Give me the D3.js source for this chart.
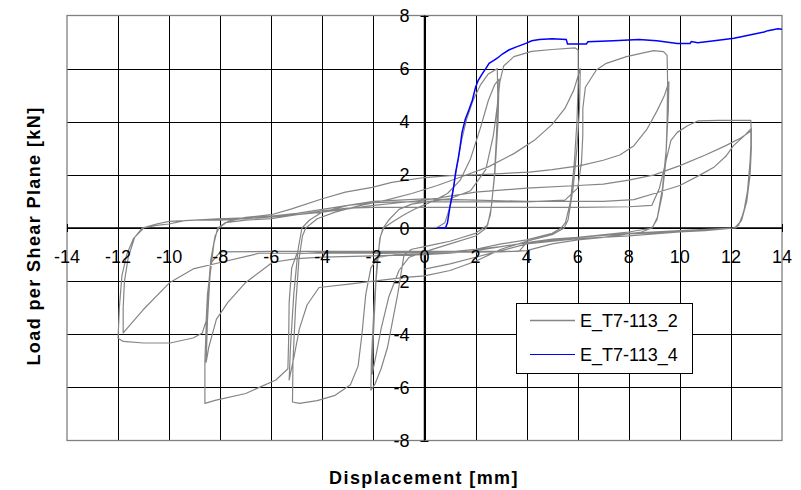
<!DOCTYPE html>
<html>
<head>
<meta charset="utf-8">
<script src="https://cdn.jsdelivr.net/npm/d3@7"></script>
<style>
  body { margin: 0; background: #fff; }
  text { font-family: "Liberation Sans", Arial, sans-serif; }
</style>
</head>
<body>
<div id="chart"></div>
<script>
const xTicks = [-14, -12, -10, -8, -6, -4, -2, 0, 2, 4, 6, 8, 10, 12, 14];
const yTicks = [-8, -6, -4, -2, 0, 2, 4, 6, 8];
const seriesNames = ["E_T7-113_2", "E_T7-113_4"];

// E_T7-113_2, cyclic test, one array per cycle
const cycle1 = [[0,0],[0.5,0.02],[0.8,0.2],[1.0,0.8],[1.15,1.6],[1.3,2.5],[1.45,3.3],[1.65,4.1],[1.9,4.8],[2.2,5.4],[2.5,5.8],[2.85,6.0],
  [2.87,5.0],[2.82,3.5],[2.74,2.0],[2.62,0.8],[2.47,0.1],[2.3,0],
  [2.0,-0.2],[1.5,-0.35],[1.0,-0.5],[0.5,-0.6],[0,-0.7],[-0.5,-0.8],[-0.8,-1.0],
  [-0.9,-1.6],[-1.05,-2.5],[-1.25,-3.5],[-1.45,-4.5],[-1.7,-5.3],[-1.95,-5.9],[-2.1,-6.1],
  [-2.08,-5.0],[-1.98,-3.0],[-1.85,-1.2],[-1.72,-0.3],[-1.6,0]];
const cycle2 = [[-1.6,0],[-1.3,0.2],[-0.8,0.5],[-0.3,0.75],[0.3,1.0],[0.9,1.3],[1.4,1.8],[1.8,2.6],[2.2,3.8],[2.5,4.8],[2.75,5.4],[2.92,5.6],
  [2.88,4.0],[2.75,2.0],[2.58,0.5],[2.42,0],
  [2.0,-0.3],[1.0,-0.6],[0,-0.9],[-0.6,-1.1],[-1.0,-1.6],[-1.4,-2.6],[-1.7,-3.8],[-1.9,-4.8],[-2.05,-5.5],
  [-2.0,-4.0],[-1.9,-2.0],[-1.75,-0.4],[-1.62,0]];
const cycle3 = [[-1.62,0],[-1.4,0.3],[-1.0,0.7],[-0.5,0.9],[0.2,1.0],[1.0,1.1],[1.8,1.4],[2.4,2.2],[2.7,3.5],[2.85,4.6],[2.95,5.5],[3.1,6.1],[3.5,6.45],[4.2,6.65],[5.0,6.72],[5.9,6.78],[6.02,6.7],
  [6.02,5.5],[5.97,4.0],[5.87,2.5],[5.72,1.0],[5.52,0.2],[5.35,0],
  [5.0,-0.2],[4.0,-0.45],[3.0,-0.6],[2.0,-0.8],[1.0,-0.9],[0,-0.95],[-1.0,-1.0],[-1.8,-1.1],[-2.1,-1.5],[-2.3,-2.5],[-2.45,-4.0],[-2.6,-5.2],[-2.9,-5.9],[-3.5,-6.3],[-4.2,-6.5],[-4.9,-6.6],[-5.17,-6.55],
  [-5.15,-5.0],[-5.05,-3.0],[-4.92,-1.2],[-4.78,-0.3],[-4.65,0]];
const cycle4 = [[-4.65,0],[-4.2,0.35],[-3.5,0.6],[-2.5,0.85],[-1.5,1.05],[-0.5,1.3],[0.5,1.6],[1.5,1.95],[2.5,2.3],[3.5,2.8],[4.3,3.3],[5.0,3.9],[5.5,4.5],[5.85,5.2],[6.1,6.0],
  [6.07,4.5],[5.97,3.0],[5.82,1.5],[5.62,0.3],[5.47,0],
  [5.0,-0.25],[4.0,-0.5],[3.0,-0.8],[2.0,-1.25],[1.0,-1.6],[0,-1.8],[-0.75,-1.86],[-1.92,-1.99],[-2.96,-2.11],[-4.13,-2.24],[-4.6,-2.9],[-4.9,-3.8],[-5.1,-4.8],[-5.3,-5.72],
  [-5.25,-4.5],[-5.12,-2.5],[-4.95,-0.8],[-4.8,0]];
const cycle5 = [[-4.8,0],[-4.5,0.3],[-4.0,0.6],[-3.0,0.85],[-2.0,0.95],[-1.0,0.98],[0,0.98],[2.0,0.98],[4.0,0.98],[5.5,1.05],[6.0,1.5],[6.15,2.5],[6.2,3.5],[6.2,4.5],[6.3,5.3],[6.73,5.95],[7.12,6.2],[7.91,6.45],[8.97,6.68],[9.36,6.64],[9.5,6.5],
  [9.52,5.5],[9.5,4.0],[9.45,2.5],[9.3,1.2],[9.1,0.3],[8.9,0],
  [8.5,-0.15],[7.0,-0.35],[6.0,-0.45],[5.0,-0.6],[4.0,-0.85],[3.0,-0.9],[0,-0.92],[-2.0,-0.92],[-4.0,-0.92],[-5.0,-0.97],[-5.2,-1.5],[-5.3,-2.8],[-5.32,-4.2],[-5.35,-5.3],[-5.82,-5.72],[-7.0,-6.23],[-8.16,-6.48],[-8.6,-6.6],
  [-8.6,-5.0],[-8.52,-3.0],[-8.37,-1.2],[-8.2,-0.3],[-8.05,0]];
const cycle6 = [[-8.05,0],[-7.7,0.25],[-7.0,0.4],[-6.0,0.5],[-5.2,0.72],[-4.0,1.1],[-3.1,1.35],[-2.05,1.53],[-1.28,1.72],[0,1.9],[1.0,1.97],[2.0,2.0],[3.0,2.05],[4.1,2.1],[5.0,2.2],[6.1,2.35],[7.0,2.55],[7.65,2.75],[8.2,3.1],[8.7,3.7],[9.1,4.4],[9.4,5.0],[9.57,5.5],
  [9.55,4.5],[9.47,3.0],[9.32,1.5],[9.12,0.4],[8.92,0],
  [8.0,-0.15],[6.0,-0.35],[4.0,-0.55],[3.0,-0.7],[2.0,-0.8],[1.0,-0.9],[0,-1.0],[-2.0,-1.05],[-4.0,-1.1],[-5.0,-1.15],[-5.95,-1.29],[-7.0,-2.05],[-7.7,-2.8],[-8.15,-3.44],[-8.45,-4.5],[-8.55,-5.05],
  [-8.5,-3.5],[-8.4,-1.8],[-8.25,-0.6],[-8.1,0]];
const cycle7 = [[-8.1,0],[-7.8,0.2],[-7.0,0.3],[-6.0,0.35],[-5.0,0.5],[-4.0,0.65],[-3.0,0.75],[-2.0,0.78],[0,0.78],[2.0,0.78],[4.0,0.78],[6.0,0.78],[8.0,0.8],[8.9,0.85],[9.2,1.5],[9.45,2.5],[9.65,3.3],[9.9,3.6],[10.3,3.85],[10.7,4.03],[11.5,4.05],[12.78,4.05],
  [12.8,3.5],[12.75,2.5],[12.65,1.4],[12.5,0.6],[12.3,0.1],[12.1,0],
  [11.0,-0.05],[10.0,-0.1],[8.0,-0.2],[6.0,-0.35],[4.0,-0.55],[3.7,-0.88],[2.0,-0.88],[0,-0.88],[-2.0,-0.88],[-4.0,-0.88],[-6.0,-0.88],[-8.0,-0.9],[-8.35,-1.3],[-8.5,-2.5],[-8.55,-3.5],[-8.7,-3.95],[-9.06,-4.14],[-9.97,-4.33],[-11.0,-4.33],[-11.8,-4.27],[-12.0,-4.15],
  [-11.95,-3.0],[-11.85,-1.8],[-11.66,-1.0],[-11.4,-0.4],[-11.0,0]];
const cycle8 = [[-11.0,0],[-10.5,0.1],[-10.0,0.15],[-9.4,0.28],[-8.1,0.34],[-7.0,0.38],[-6.0,0.45],[-5.0,0.55],[-4.0,0.7],[-3.0,0.85],[-2.0,1.0],[-1.0,1.05],[0,1.1],[2.0,1.05],[4.0,1.0],[6.0,1.0],[7.0,1.0],[8.2,1.07],[9.0,1.3],[10.0,1.6],[10.8,2.0],[11.35,2.3],[11.8,2.7],[12.1,3.1],[12.5,3.45],[12.8,3.75],
  [12.8,3.0],[12.75,2.0],[12.62,1.0],[12.42,0.3],[12.2,0],
  [11.0,-0.08],[10.0,-0.12],[9.0,-0.18],[8.0,-0.22],[7.0,-0.28],[6.0,-0.35],[5.0,-0.42],[4.0,-0.55],[3.0,-0.7],[2.0,-0.85],[1.0,-0.95],[0,-1.0],[-2.0,-0.95],[-4.0,-0.95],[-6.47,-0.95],[-8.0,-1.3],[-9.06,-1.54],[-9.97,-2.05],[-11.0,-3.06],[-11.8,-3.95],
  [-11.8,-3.0],[-11.75,-2.0],[-11.6,-1.1],[-11.35,-0.35],[-11.05,0]];
const cycle9 = [[-11.05,0],[-10.5,0.15],[-10.0,0.25],[-9.0,0.3],[-8.0,0.3],[-7.0,0.35],[-6.0,0.42],[-5.0,0.5],[-4.0,0.6],[-3.0,0.72],[-2.0,0.85],[-1.0,0.95],[0,1.05],[1.0,1.2],[2.0,1.35],[4.0,1.5],[6.0,1.6],[7.0,1.65],[8.0,1.8],[9.0,2.0],[10.0,2.35],[11.0,2.75],[11.8,3.1],[12.4,3.4],[12.78,3.65],
  [12.78,2.8],[12.72,1.8],[12.58,0.9],[12.38,0.25],[12.15,0],
  [11.0,-0.1],[10.0,-0.15],[8.0,-0.3],[6.0,-0.4],[4.0,-0.6],[2.0,-1.1],[1.0,-1.35],[0,-1.55]];

// E_T7-113_4, monotonic test
const monotonic = [[0.49,0],[0.82,0],[0.9,0.2],[1.0,0.82],[1.08,1.2],[1.15,1.6],[1.22,2.1],[1.32,2.6],[1.4,3.1],[1.47,3.6],[1.6,4.1],[1.74,4.45],[1.87,4.8],[2.0,5.3],[2.1,5.55],[2.26,5.8],[2.4,6.0],[2.53,6.2],[2.7,6.3],[2.86,6.4],[3.05,6.55],[3.3,6.7],[3.6,6.82],[3.97,6.95],[4.2,7.05],[4.5,7.1],[5.0,7.12],[5.55,7.1],[5.6,6.93],[6.34,6.93],[6.4,7.01],[7.4,7.05],[8.4,7.1],[9.1,7.05],[9.9,6.95],[10.4,6.95],[10.45,7.02],[10.7,6.97],[11.35,7.05],[12.12,7.14],[12.5,7.22],[12.92,7.3],[13.3,7.38],[13.45,7.43],[13.84,7.5],[14.05,7.48]];

const cycles = [cycle1, cycle2, cycle3, cycle4, cycle5, cycle6, cycle7, cycle8, cycle9];
const grayPath = [].concat(...cycles);

const width = 801, height = 490;
const plot = { left: 67, right: 782, top: 15.5, bottom: 440.5 };

const svg = d3.select("#chart")
    .append("svg")
    .attr("width", width)
    .attr("height", height);

const x = d3.scaleLinear().domain([-14, 14]).range([plot.left, plot.right]);
const y = d3.scaleLinear().domain([-8, 8]).range([plot.bottom, plot.top]);
const px = v => Math.round(x(v)) + 0.5;
const py = v => Math.round(y(v)) + 0.5;

svg.append("clipPath").attr("id", "clip")
    .append("rect")
    .attr("x", plot.left).attr("y", plot.top)
    .attr("width", plot.right - plot.left).attr("height", plot.bottom - plot.top);

// grid
svg.selectAll(".vgrid")
    .data(xTicks.slice(1, -1))
    .enter().append("line")
    .attr("class", "vgrid")
    .attr("x1", d => px(d)).attr("x2", d => px(d))
    .attr("y1", plot.top).attr("y2", plot.bottom)
    .attr("stroke", "#000").attr("stroke-width", 1);

svg.selectAll(".hgrid")
    .data(yTicks.slice(1, -1))
    .enter().append("line")
    .attr("class", "hgrid")
    .attr("x1", plot.left).attr("x2", plot.right)
    .attr("y1", d => py(d)).attr("y2", d => py(d))
    .attr("stroke", "#000").attr("stroke-width", 1);

svg.append("rect")
    .attr("x", plot.left).attr("y", plot.top)
    .attr("width", plot.right - plot.left).attr("height", plot.bottom - plot.top)
    .attr("fill", "none")
    .attr("stroke", "#808080")
    .attr("stroke-width", 1.3);

// zero axes
svg.append("line")
    .attr("x1", plot.left).attr("x2", plot.right)
    .attr("y1", y(0)).attr("y2", y(0))
    .attr("stroke", "#000").attr("stroke-width", 1.5);
svg.append("line")
    .attr("x1", x(0)).attr("x2", x(0))
    .attr("y1", plot.top).attr("y2", plot.bottom)
    .attr("stroke", "#000").attr("stroke-width", 1.5);

svg.selectAll(".xtick")
    .data(xTicks)
    .enter().append("line")
    .attr("class", "xtick")
    .attr("x1", d => px(d)).attr("x2", d => px(d))
    .attr("y1", y(0) - 4).attr("y2", y(0) + 4)
    .attr("stroke", "#000");

svg.selectAll(".ytick")
    .data(yTicks)
    .enter().append("line")
    .attr("class", "ytick")
    .attr("x1", x(0) - 4).attr("x2", x(0) + 4)
    .attr("y1", d => py(d)).attr("y2", d => py(d))
    .attr("stroke", "#000");

// data
const line = d3.line()
    .x(d => x(d[0]))
    .y(d => y(d[1]));

const dataLayer = svg.append("g").attr("clip-path", "url(#clip)");

dataLayer.append("path")
    .datum(grayPath)
    .attr("fill", "none")
    .attr("stroke", "#858585")
    .attr("stroke-width", 1.2)
    .attr("stroke-linejoin", "round")
    .attr("d", line);

dataLayer.append("path")
    .datum(monotonic)
    .attr("fill", "none")
    .attr("stroke", "#0000ff")
    .attr("stroke-width", 1.5)
    .attr("d", line);

// tick labels
svg.selectAll(".xlabel")
    .data(xTicks)
    .enter().append("text")
    .attr("class", "xlabel")
    .attr("x", d => x(d))
    .attr("y", y(0) + 35)
    .attr("text-anchor", "middle")
    .attr("font-size", "18px")
    .text(d => d);

svg.selectAll(".ylabel")
    .data(yTicks)
    .enter().append("text")
    .attr("class", "ylabel")
    .attr("x", x(0) - 15)
    .attr("y", d => y(d) + 6.5)
    .attr("text-anchor", "end")
    .attr("font-size", "18px")
    .text(d => d);

// axis titles
svg.append("text")
    .attr("x", 424)
    .attr("y", 484)
    .attr("text-anchor", "middle")
    .attr("font-size", "18px")
    .style("font-weight", "bold")
    .style("letter-spacing", "1.4px")
    .text("Displacement [mm]");

svg.append("text")
    .attr("transform", "translate(40,236) rotate(-90)")
    .attr("text-anchor", "middle")
    .attr("font-size", "18px")
    .style("font-weight", "bold")
    .style("letter-spacing", "1.4px")
    .text("Load per Shear Plane [kN]");

// legend
const legend = svg.append("g").attr("class", "legend");
legend.append("rect")
    .attr("x", 516.5).attr("y", 303.5)
    .attr("width", 176).attr("height", 70)
    .attr("fill", "#fff")
    .attr("stroke", "#000");

const legendColors = ["#858585", "#0000ff"];
const legendY = [320, 354];
seriesNames.forEach((name, i) => {
    legend.append("line")
        .attr("x1", 530).attr("x2", 575)
        .attr("y1", legendY[i] + 0.5).attr("y2", legendY[i] + 0.5)
        .attr("stroke", legendColors[i])
        .attr("stroke-width", i === 0 ? 1.3 : 1.2);
    legend.append("text")
        .attr("x", 580)
        .attr("y", legendY[i] + 6.5)
        .attr("font-size", "18px")
        .text(name);
});
</script>
</body>
</html>
